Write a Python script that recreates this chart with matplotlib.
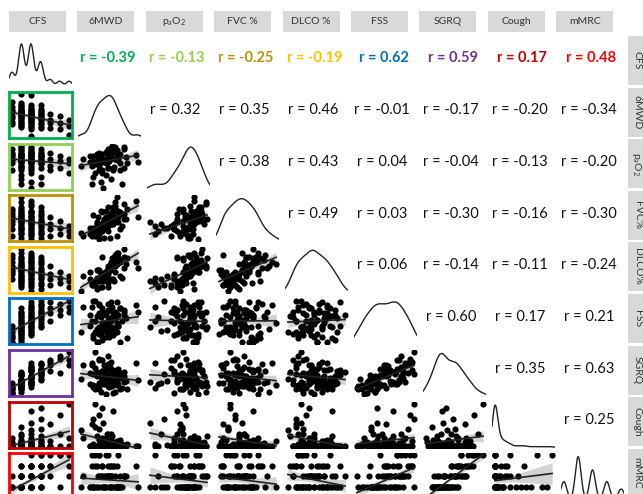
import numpy as np
import matplotlib.pyplot as plt

plt.rcParams['font.family'] = ['Lato', 'DejaVu Sans']
plt.rcParams['mathtext.fontset'] = 'custom'
plt.rcParams['mathtext.rm'] = 'Lato'
plt.rcParams['mathtext.it'] = 'Lato'

# column / row labels
header_labels = ['CFS', '6MWD', r'p$_\mathrm{a}$O$_2$', 'FVC %', 'DLCO %', 'FSS', 'SGRQ', 'Cough', 'mMRC']
strip_labels = ['CFS', '6MWD', r'p$_\mathrm{a}$O$_2$', 'FVC%', 'DLCO%', 'FSS', 'SGRQ', 'Cough', 'mMRC']

# patient data (estimated from the scatter panels)
cfs = [0, 0, 0, 0, 0, 0, 0, 0,
       1, 1, 1, 1, 1, 1, 1, 1, 1, 1, 1, 1, 1, 1, 1, 1, 1, 1, 1, 1, 1, 1, 1, 1,
       2, 2, 2, 2, 2, 2, 2, 2, 2, 2, 2, 2, 2, 2, 2, 2, 2, 2, 2, 2, 2, 2, 2, 2,
       3, 3, 3, 3, 3, 3, 3, 3, 3, 3, 3, 3, 3, 3,
       4, 4, 4, 4, 5, 5, 5, 6, 6, 6]
mwd6 = [500, 390, 540, 430, 460, 375, 480, 420,
        530, 380, 460, 420, 490, 350, 470, 510, 440, 400, 600, 430, 475, 390, 450, 520,
        360, 480, 415, 455, 500, 370, 435, 465,
        440, 500, 360, 420, 470, 330, 450, 390, 590, 410, 380, 460, 430, 280, 480, 405,
        445, 370, 520, 425, 350, 490, 400, 455,
        440, 380, 490, 350, 460, 410, 520, 370, 430, 400, 470, 340, 450, 420,
        400, 340, 450, 380, 380, 330, 430, 360, 290, 400]
pao2 = [84, 80, 76, 88, 70, 82, 79, 85,
        81, 74, 87, 66, 83, 78, 90, 58, 80, 84, 77, 72, 86, 81, 62, 88,
        75, 83, 79, 91, 70, 84, 78, 73,
        82, 76, 68, 86, 80, 77, 89, 60, 83, 79, 85, 72, 81, 74, 87, 55,
        84, 78, 90, 76, 82, 80, 70, 86,
        81, 75, 84, 64, 88, 79, 72, 83, 86, 77, 80, 58, 82, 76,
        80, 74, 85, 70, 78, 82, 72, 76, 80, 68]
fvc = [96, 78, 102, 88, 84, 92, 70, 100,
       90, 72, 105, 80, 86, 95, 110, 82, 68, 98, 92, 76, 88, 100, 84, 96,
       74, 116, 80, 90, 78, 86, 94, 102,
       88, 98, 70, 92, 106, 80, 84, 76, 112, 90, 66, 96, 82, 74, 100, 86,
       94, 72, 108, 88, 78, 92, 84, 98,
       86, 74, 100, 80, 94, 68, 90, 84, 104, 76, 88, 72, 96, 82,
       84, 70, 92, 78, 80, 72, 88, 76, 70, 82]
dlco = [70, 58, 74, 66, 52, 62, 78, 60,
        68, 50, 72, 56, 80, 48, 66, 54, 62, 76, 64, 44, 70, 58, 52, 84,
        46, 68, 60, 74, 56, 62, 66, 50,
        64, 72, 46, 60, 78, 52, 68, 44, 70, 56, 62, 74, 58, 40, 80, 50,
        66, 54, 64, 60, 48, 76, 58, 70,
        62, 52, 72, 46, 68, 58, 76, 42, 64, 56, 60, 48, 70, 54,
        58, 46, 66, 52, 54, 60, 48, 50, 56, 44]
fss = [10, 26, 14, 30, 18, 9, 22, 16,
       40, 28, 42, 25, 30, 14, 26, 36, 38, 12, 48, 20, 46, 18, 24, 44,
       22, 34, 33, 29, 52, 10, 16, 21,
       50, 52, 36, 46, 40, 30, 36, 41, 56, 24, 20, 42, 38, 22, 60, 28,
       29, 26, 48, 32, 18, 44, 34, 54,
       38, 56, 30, 62, 46, 34, 50, 42, 58, 28, 48, 54, 40, 44,
       52, 36, 60, 46, 58, 44, 50, 62, 54, 48]
sgrq = [14, 8, 13, 20, 7, 16, 24, 5,
        28, 14, 25, 28, 39, 21, 9, 16, 39, 32, 30, 30, 23, 27, 24, 44,
        13, 21, 38, 20, 42, 19, 18, 38,
        52, 33, 51, 50, 45, 22, 37, 22, 59, 23, 25, 26, 54, 32, 47, 27,
        34, 36, 27, 37, 18, 23, 46, 26,
        50, 43, 50, 40, 48, 56, 36, 44, 58, 31, 29, 60, 47, 41,
        46, 56, 62, 65, 67, 42, 73, 79, 57, 66]
cough = [0, 0, 2, 0, 5, 0, 0, 10,
         0, 8, 3, 1, 0, 0, 0, 2, 0, 0, 0, 0, 0, 0, 15, 0,
         25, 6, 0, 12, 0, 0, 4, 0,
         0, 8, 0, 0, 0, 0, 5, 0, 0, 3, 0, 45, 0, 20, 0, 30,
         2, 0, 0, 15, 2, 0, 10, 0,
         0, 22, 0, 35, 0, 5, 0, 12, 0, 50, 3, 0, 8, 0,
         0, 28, 6, 0, 40, 0, 15, 55, 10, 0]
mmrc = [1, 0, 0, 0, 0, 2, 1, 0,
        2, 1, 0, 1, 1, 1, 0, 1, 3, 0, 1, 2, 1, 0, 1, 2,
        1, 1, 1, 2, 2, 0, 1, 3,
        2, 1, 3, 4, 1, 1, 2, 2, 3, 1, 0, 1, 2, 1, 3, 1,
        1, 1, 2, 2, 1, 1, 3, 0,
        2, 2, 4, 1, 3, 2, 2, 3, 3, 1, 2, 4, 1, 2,
        2, 3, 3, 4, 4, 1, 4, 4, 2, 3]

# correlation labels (upper triangle, row by row)
r_values = [
    [-0.39, -0.13, -0.25, -0.19, 0.62, 0.59, 0.17, 0.48],
    [0.32, 0.35, 0.46, -0.01, -0.17, -0.20, -0.34],
    [0.38, 0.43, 0.04, -0.04, -0.13, -0.20],
    [0.49, 0.03, -0.30, -0.16, -0.30],
    [0.06, -0.14, -0.11, -0.24],
    [0.60, 0.17, 0.21],
    [0.35, 0.63],
    [0.25],
]
highlight = ['#00b050', '#92d050', '#bf9000', '#ffc000', '#0070c0', '#7030a0', '#c00000', '#ff0000']

data = [np.array(v, dtype=float) for v in [cfs, mwd6, pao2, fvc, dlco, fss, sgrq, cough, mmrc]]
n_var = len(data)

# axis limits per variable
lims = []
for v in data:
    pad = 0.05 * (v.max() - v.min())
    lims.append((v.min() - pad, v.max() + pad))

# kde bandwidths (discrete scores get narrow kernels)
bws = [0.85 * v.std() * len(v) ** (-0.2) for v in data]
bws[0] = 0.3
bws[7] = 2.5
bws[8] = 0.2

W, H = 643, 494
fig = plt.figure(figsize=(W / 100, H / 100), dpi=100)


def add_box(x, y, w, h):
    ax = fig.add_axes([x / W, 1 - (y + h) / H, w / W, h / H])
    ax.set_xticks([])
    ax.set_yticks([])
    for s in ax.spines.values():
        s.set_visible(False)
    return ax


# column headers
for j in range(n_var):
    hx = add_box(9 + 68.4 * j, 11, 57, 21)
    hx.set_facecolor('#d9d9d9')
    hx.text(0.5, 0.5, header_labels[j], ha='center', va='center', fontsize=7.5,
            color='#333333', transform=hx.transAxes)

# row strips on the right
for i in range(n_var):
    sx = add_box(628, 36 + 51.6 * i, 20, 49)
    sx.set_facecolor('#d9d9d9')
    sx.text(0.45, 0.5, strip_labels[i], ha='center', va='center', rotation=-90,
            fontsize=7.5, color='#333333', transform=sx.transAxes)

for i in range(n_var):
    for j in range(n_var):
        ax = add_box(9 + 69 * j, 40.5 + 51.6 * i, 63, 46)
        ax.patch.set_alpha(0)
        if i == j:
            v = data[i]
            g = np.linspace(lims[i][0], lims[i][1], 300)
            dens = np.exp(-0.5 * ((g[:, None] - v[None, :]) / bws[i]) ** 2).sum(axis=1)
            ax.plot(g, dens, color='#222222', lw=1.0)
            ax.set_xlim(lims[i])
            ax.set_ylim(0, dens.max() * 1.08)
        elif i < j:
            r = r_values[i][j - i - 1]
            txt = 'r = %.2f' % r
            if i == 0:
                ax.text(0.47, 0.62, txt, ha='center', va='center', fontsize=10.5,
                        fontweight='bold', color=highlight[j - 1], transform=ax.transAxes)
            else:
                ax.text(0.45, 0.6, txt, ha='center', va='center', fontsize=10.5,
                        color='#111111', transform=ax.transAxes)
            ax.set_xlim(0, 1)
            ax.set_ylim(0, 1)
        else:
            x = data[j]
            y = data[i]
            b, a = np.polyfit(x, y, 1)
            xs = np.linspace(x.min(), x.max(), 100)
            fit = a + b * xs
            resid = y - (a + b * x)
            s_err = np.sqrt((resid ** 2).sum() / (len(x) - 2))
            se = s_err * np.sqrt(1 / len(x) + (xs - x.mean()) ** 2 / ((x - x.mean()) ** 2).sum())
            ax.fill_between(xs, fit - 1.96 * se, fit + 1.96 * se, color='#cfcfcf',
                            alpha=0.9, lw=0, zorder=1)
            ax.scatter(x, y, s=20, color='black', linewidths=0, zorder=2)
            ax.plot(xs, fit, color='#222222', lw=1.2, zorder=3)
            ax.set_xlim(lims[j])
            ax.set_ylim(lims[i])
            if j == 0:
                for s in ax.spines.values():
                    s.set_visible(True)
                    s.set_color(highlight[i - 1])
                    s.set_linewidth(2)

fig.savefig('out.png', dpi=100)
